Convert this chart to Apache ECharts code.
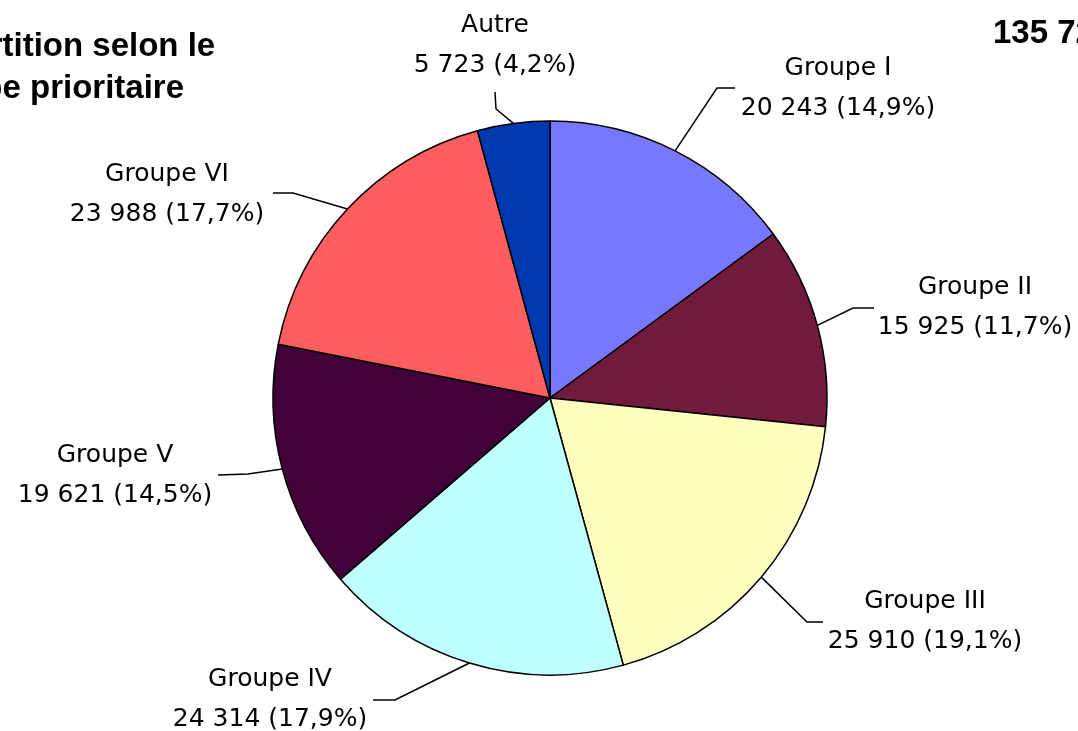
<!DOCTYPE html>
<html>
<head>
<meta charset="utf-8">
<title>Répartition selon le groupe prioritaire</title>
<script src="https://cdn.jsdelivr.net/npm/echarts@6/dist/echarts.min.js"></script>
<style>
  html, body { margin: 0; padding: 0; background: #fff; }
  #chart_pie { width: 1078px; height: 731px; }
</style>
</head>
<body>
<div id="chart_pie"></div>
<script>
// données
var groupes = ['Groupe I', 'Groupe II', 'Groupe III', 'Groupe IV', 'Groupe V', 'Groupe VI', 'Autre'];
var effectifs = [20243, 15925, 25910, 24314, 19621, 23988, 5723];
var couleurs = ['#7878ff', '#721a3c', '#ffffc0', '#c0ffff', '#420038', '#ff5e5e', '#0038b0'];

var total = effectifs.reduce(function (a, b) { return a + b; }, 0);

function fmtNombre (v) {
  return String(v).replace(/\B(?=(\d{3})+(?!\d))/g, ' ');
}

// position des étiquettes (centre du texte) et coude du trait
var etiquettes = [
  { x: 838, y: 88, mid: [717, 88], end: [735, 88] },
  { x: 975, y: 307, mid: [853, 308], end: [874, 308] },
  { x: 925, y: 621, mid: [807, 622], end: [823, 622] },
  { x: 270, y: 699, mid: [395, 700], end: [373, 700] },
  { x: 115, y: 475, mid: [248, 474], end: [218, 475] },
  { x: 167, y: 194, mid: [293, 193], end: [273, 193] },
  { x: 495, y: 45, mid: [496, 109], end: [495, 92] }
];

var myChart = echarts.init(document.getElementById('chart_pie'));

var option = {
  backgroundColor: '#ffffff',
  animation: false,
  graphic: [
    {
      type: 'text',
      left: -91,
      top: 26,
      style: {
        text: 'Répartition selon le\ngroupe prioritaire',
        font: 'bold 33px "Liberation Sans", Arial, sans-serif',
        lineHeight: 42,
        fill: '#000'
      }
    },
    {
      type: 'text',
      left: 993,
      top: 17,
      style: {
        text: '135 724',
        font: 'bold 33px "Liberation Sans", Arial, sans-serif',
        fill: '#000'
      }
    },
    {
      type: 'line',
      shape: { x1: 888, y1: 56, x2: 888, y2: 75 },
      style: { stroke: '#000', lineWidth: 2 }
    }
  ],
  series: [
    {
      type: 'pie',
      center: [550, 398],
      radius: 277,
      startAngle: 90,
      clockwise: true,
      avoidLabelOverlap: false,
      data: groupes.map(function (g, i) {
        return { name: g, value: effectifs[i], itemStyle: { color: couleurs[i] } };
      }),
      itemStyle: {
        borderColor: '#000',
        borderWidth: 1.5
      },
      label: {
        show: true,
        position: 'outside',
        formatter: function (p) {
          var pct = (p.value / total * 100).toFixed(1).replace('.', ',');
          return p.name + '\n' + fmtNombre(p.value) + ' (' + pct + '%)';
        },
        fontFamily: '"DejaVu Sans", sans-serif',
        fontSize: 25,
        lineHeight: 40,
        color: '#000',
        align: 'center'
      },
      labelLine: {
        show: true,
        lineStyle: { color: '#000', width: 1.5 }
      },
      labelLayout: function (params) {
        var e = etiquettes[params.dataIndex];
        var start = params.labelLinePoints ? params.labelLinePoints[0] : e.mid;
        return {
          x: e.x,
          y: e.y,
          align: 'center',
          verticalAlign: 'middle',
          labelLinePoints: [start, e.mid, e.end]
        };
      }
    }
  ]
};

myChart.setOption(option);
window.onresize = function () {
  myChart.resize();
};
</script>
</body>
</html>
